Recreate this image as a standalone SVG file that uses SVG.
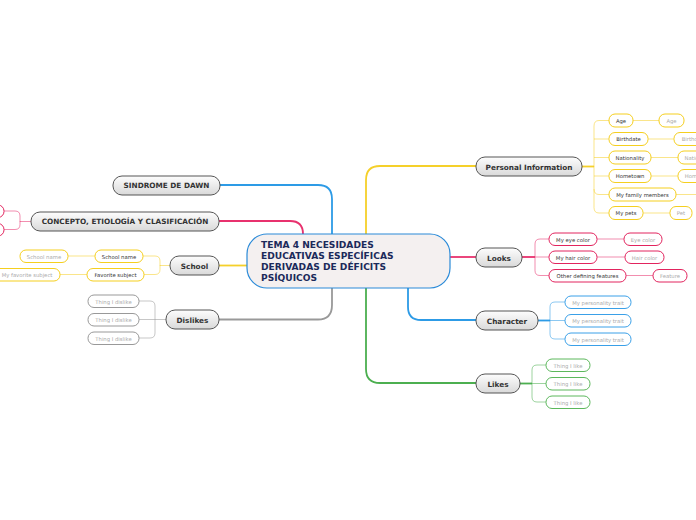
<svg xmlns="http://www.w3.org/2000/svg" width="696" height="520" viewBox="0 0 696 520">
<defs>
<linearGradient id="g" x1="0" y1="0" x2="0" y2="1">
<stop offset="0" stop-color="#fdfdfd"/><stop offset="1" stop-color="#d9d9d9"/>
</linearGradient>
</defs>
<style>
.main rect{fill:url(#g);stroke:#555;stroke-width:1}
.main text{font-family:"DejaVu Sans",Verdana,sans-serif;font-weight:bold;font-size:7.3px;fill:#333;text-anchor:middle}
.sub rect{fill:#fff;stroke-width:1}
.sub text{font-family:"DejaVu Sans",Verdana,sans-serif;font-size:5.3px;fill:#333;text-anchor:middle}
.val text{fill:#aaa}
.y rect{stroke:#f5cf1f}.p rect{stroke:#e2245e}.b rect{stroke:#3aa0e8}.gr rect{stroke:#5cb85c}.k rect{stroke:#999}
#conn path{fill:none}
.cy{stroke:#f5d02a}.cp{stroke:#e8316e}.cb{stroke:#2d9be6}.cg{stroke:#4caf50}.ck{stroke:#999}
.w2{stroke-width:1.8}.w1{stroke-width:1;stroke-opacity:.55}
</style>
<rect width="696" height="520" fill="#fff"/>
<g id="conn">
<path class="cb w2" d="M220,185 H318 Q332,185 332,199 V234"/>
<path class="cp w2" d="M219,221 H290 Q303,221 303,234"/>
<path class="ck w2" d="M219,319.5 H318 Q332,319.5 332,305 V288"/>
<path class="cy w2" d="M219,265.5 H247"/>
<path class="cy w2" d="M366,234 V180 Q366,166 380,166 H476"/>
<path class="cg w2" d="M366,288 V369 Q366,383 380,383 H476"/>
<path class="cb w2" d="M408,288 V307 Q408,320 421,320 H476"/>
<path class="cp w2" d="M450,257 H476"/>
<path class="cy w2" d="M582,166.5 H594"/>
<path class="cy w1" d="M594,166.5 V126 Q594,120.5 599,120.5 H609 M594,139 H609 M594,157.5 H609 M594,176 H609 M594,166 V189 Q594,194.5 599,194.5 H609 M594,189 V207.5 Q594,213 599,213 H609"/>
<path class="cy w1" d="M633,120.5 H659 M648,139 H674 M651,157.5 H678 M651,176 H678 M676,194.5 H696 M643,213 H670"/>
<path class="cp w2" d="M522,257 H535"/>
<path class="cp w1" d="M535,257 V244 Q535,239 540,239 H549 M535,257 H549 M535,257 V270.5 Q535,275.5 540,275.5 H549"/>
<path class="cp w1" d="M597,239 H624 M597,257 H625 M626,275.5 H653"/>
<path class="cb w2" d="M538,320.5 H550"/>
<path class="cb w1" d="M550,320.5 V307 Q550,302 555,302 H565 M550,320.5 H565 M550,320.5 V334 Q550,339 555,339 H565"/>
<path class="cg w2" d="M520,383.5 H532"/>
<path class="cg w1" d="M532,383.5 V370 Q532,365 537,365 H546 M532,383.5 H546 M532,383.5 V397 Q532,402 537,402 H546"/>
<path class="cy w1" d="M170,265.5 H160 V261 Q160,256 155,256 H143 M160,265 V269.5 Q160,274.5 155,274.5 H144"/>
<path class="cy w1" d="M95,256 H68 M87,274.5 H60"/>
<path class="ck w1" d="M166,319.5 H155 V306 Q155,301 150,301 H139 M155,319.5 H139 M155,319.5 V333 Q155,338 150,338 H139"/>
<path class="cp w1" d="M31,221.5 H20 V216 Q20,211 15,211 H4 M20,221 V224.5 Q20,229.5 15,229.5 H4"/>
</g>
<g id="center">
<rect x="247" y="234" width="203" height="54" rx="20" fill="#f4f0f0" stroke="#2a8ad8" stroke-width="1.2"/>
<text font-family="DejaVu Sans,Verdana,sans-serif" font-weight="bold" font-size="9.1" fill="#1b2a5a"><tspan x="261" y="247.5">TEMA 4 NECESIDADES</tspan><tspan x="261" y="258.5">EDUCATIVAS ESPECÍFICAS</tspan><tspan x="261" y="269.5">DERIVADAS DE DÉFICITS</tspan><tspan x="261" y="280.5">PSÍQUICOS</tspan></text>
</g>
<g id="n-sindrome" class="main"><rect x="113" y="176" width="107" height="19" rx="9"/><text x="166.5" y="188">SINDROME DE DAWN</text></g>
<g id="n-concepto" class="main"><rect x="31" y="212" width="188" height="19" rx="9"/><text x="125" y="224">CONCEPTO, ETIOLOGÍA Y CLASIFICACIÓN</text></g>
<g id="n-school" class="main"><rect x="170" y="256" width="49" height="19" rx="9"/><text x="194.5" y="268.5">School</text></g>
<g id="n-dislikes" class="main"><rect x="166" y="310" width="53" height="19" rx="9"/><text x="192.5" y="322.5">Dislikes</text></g>
<g id="n-personal" class="main"><rect x="476" y="157" width="106" height="19" rx="9"/><text x="529" y="169.5">Personal Information</text></g>
<g id="n-looks" class="main"><rect x="476" y="248" width="46" height="19" rx="9"/><text x="499" y="260.5">Looks</text></g>
<g id="n-character" class="main"><rect x="476" y="311" width="62" height="19" rx="9"/><text x="507" y="323.5">Character</text></g>
<g id="n-likes" class="main"><rect x="476" y="374" width="44" height="19" rx="9"/><text x="498" y="386.5">Likes</text></g>

<g id="n-age" class="sub y"><rect x="609" y="114" width="24" height="13" rx="6"/><text x="621" y="122.5">Age</text></g>
<g id="n-birthdate" class="sub y"><rect x="609" y="132.5" width="39" height="13" rx="6"/><text x="628.5" y="141">Birthdate</text></g>
<g id="n-nationality" class="sub y"><rect x="609" y="151" width="42" height="13" rx="6"/><text x="630" y="159.5">Nationality</text></g>
<g id="n-hometown" class="sub y"><rect x="609" y="169.5" width="42" height="13" rx="6"/><text x="630" y="178">Hometown</text></g>
<g id="n-family" class="sub y"><rect x="609" y="188" width="67" height="13" rx="6"/><text x="642.5" y="196.5">My family members</text></g>
<g id="n-pets" class="sub y"><rect x="609" y="206.5" width="34" height="13" rx="6"/><text x="626" y="215">My pets</text></g>
<g id="v-age" class="sub val y"><rect x="659" y="114" width="25" height="13" rx="6"/><text x="671.5" y="122.5">Age</text></g>
<g id="v-birthdate" class="sub val y"><rect x="674" y="132.5" width="40" height="13" rx="6"/><text x="694" y="141">Birthdate</text></g>
<g id="v-nationality" class="sub val y"><rect x="678" y="151" width="42" height="13" rx="6"/><text x="699" y="159.5">Nationality</text></g>
<g id="v-hometown" class="sub val y"><rect x="678" y="169.5" width="42" height="13" rx="6"/><text x="699" y="178">Hometown</text></g>
<g id="v-pet" class="sub val y"><rect x="670" y="206.5" width="22" height="13" rx="6"/><text x="681" y="215">Pet</text></g>

<g id="n-eye" class="sub p"><rect x="549" y="233" width="48" height="12.5" rx="6"/><text x="573" y="241.5">My eye color</text></g>
<g id="n-hair" class="sub p"><rect x="549" y="251" width="48" height="12.5" rx="6"/><text x="573" y="259.5">My hair color</text></g>
<g id="n-other" class="sub p"><rect x="549" y="269.5" width="77" height="12.5" rx="6"/><text x="587.5" y="278">Other defining features</text></g>
<g id="v-eye" class="sub val p"><rect x="624" y="233" width="38" height="12.5" rx="6"/><text x="643" y="241.5">Eye color</text></g>
<g id="v-hair" class="sub val p"><rect x="625" y="251" width="39" height="12.5" rx="6"/><text x="644.5" y="259.5">Hair color</text></g>
<g id="v-feature" class="sub val p"><rect x="653" y="269.5" width="34" height="12.5" rx="6"/><text x="670" y="278">Feature</text></g>

<g id="n-trait1" class="sub val b"><rect x="565" y="296" width="66" height="12.5" rx="6"/><text x="598" y="304.5">My personality trait</text></g>
<g id="n-trait2" class="sub val b"><rect x="565" y="314.5" width="66" height="12.5" rx="6"/><text x="598" y="323">My personality trait</text></g>
<g id="n-trait3" class="sub val b"><rect x="565" y="333" width="66" height="12.5" rx="6"/><text x="598" y="341.5">My personality trait</text></g>

<g id="n-like1" class="sub val gr"><rect x="546" y="359" width="44" height="12.5" rx="6"/><text x="568" y="367.5">Thing I like</text></g>
<g id="n-like2" class="sub val gr"><rect x="546" y="377.5" width="44" height="12.5" rx="6"/><text x="568" y="386">Thing I like</text></g>
<g id="n-like3" class="sub val gr"><rect x="546" y="396" width="44" height="12.5" rx="6"/><text x="568" y="404.5">Thing I like</text></g>

<g id="n-schoolname" class="sub y"><rect x="95" y="250" width="48" height="12.5" rx="6"/><text x="119" y="258.5">School name</text></g>
<g id="n-favsubject" class="sub y"><rect x="87" y="268.5" width="57" height="12.5" rx="6"/><text x="115.5" y="277">Favorite subject</text></g>
<g id="v-schoolname" class="sub val y"><rect x="20" y="250" width="48" height="12.5" rx="6"/><text x="44" y="258.5">School name</text></g>
<g id="v-favsubject" class="sub val y"><rect x="-6" y="268.5" width="66" height="12.5" rx="6"/><text x="27" y="277">My favorite subject</text></g>

<g id="n-dislike1" class="sub val k"><rect x="88" y="295" width="51" height="12.5" rx="6"/><text x="113.5" y="303.5">Thing I dislike</text></g>
<g id="n-dislike2" class="sub val k"><rect x="88" y="313.5" width="51" height="12.5" rx="6"/><text x="113.5" y="322">Thing I dislike</text></g>
<g id="n-dislike3" class="sub val k"><rect x="88" y="332" width="51" height="12.5" rx="6"/><text x="113.5" y="340.5">Thing I dislike</text></g>

<g id="n-concepto1" class="sub p"><rect x="-30" y="205" width="34" height="12.5" rx="6"/></g>
<g id="n-concepto2" class="sub p"><rect x="-30" y="223.5" width="34" height="12.5" rx="6"/></g>
</svg>
